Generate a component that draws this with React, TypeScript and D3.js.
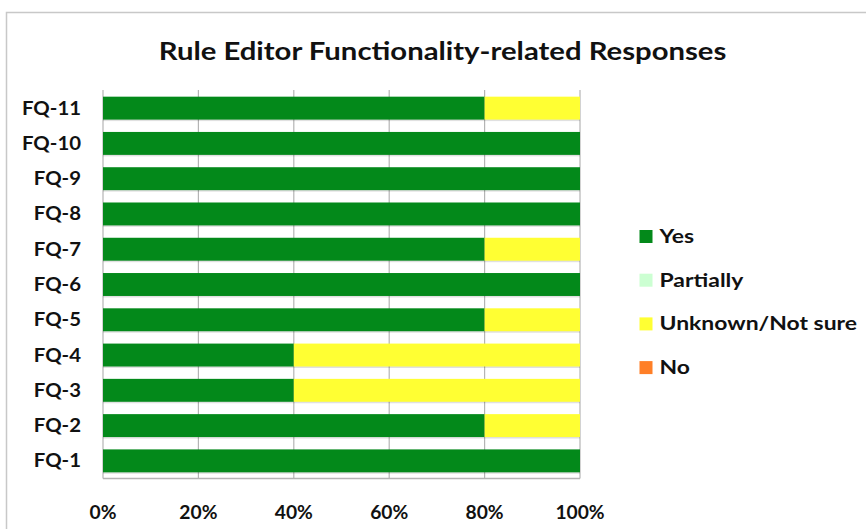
import React from "react";
import * as d3 from "d3";

const categories = ["FQ-1", "FQ-2", "FQ-3", "FQ-4", "FQ-5", "FQ-6", "FQ-7", "FQ-8", "FQ-9", "FQ-10", "FQ-11"];
const seriesNames = ["Yes", "Partially", "Unknown/Not sure", "No"];
const yesValues = [100, 80, 40, 40, 80, 100, 80, 100, 100, 100, 80];
const partiallyValues = [0, 0, 0, 0, 0, 0, 0, 0, 0, 0, 0];
const unknownValues = [0, 20, 60, 60, 20, 0, 20, 0, 0, 0, 20];
const noValues = [0, 0, 0, 0, 0, 0, 0, 0, 0, 0, 0];
const tickValues = [0, 20, 40, 60, 80, 100];
const colors = ["#03891A", "#CCFFD2", "#FFFF33", "#FF7F27"];

const W = 866, H = 529;
const FONT = "Lato, 'Open Sans', sans-serif";

export default function App() {
  const x = d3.scaleLinear().domain([0, 100]).range([103, 580]);
  const y = d3.scaleBand<string>().domain([...categories].reverse()).range([90.5, 478.5]).paddingInner(0.35).paddingOuter(0.175);
  const rows = categories.map((c, i) => ({
    cat: c,
    Yes: yesValues[i],
    Partially: partiallyValues[i],
    "Unknown/Not sure": unknownValues[i],
    No: noValues[i],
  }));
  const stack = d3.stack<any>().keys(seriesNames)(rows);
  const bh = y.bandwidth();
  return (
    <svg width={W} height={H} style={{ display: "block", position: "absolute", left: 0, top: 0, background: "#fff" }}>
      <rect x={6.5} y={12.5} width={W + 20} height={H + 20} fill="#fff" stroke="#c8c8c8" strokeWidth={1.5} />
      <g transform="translate(442.5, 60) scale(1.22, 1)">
        <text x={0} y={0} textAnchor="middle" fontFamily={FONT} fontWeight="bold" fontSize={24} fill="#111">
          Rule Editor Functionality-related Responses
        </text>
      </g>
      {tickValues.map((t) => (
        <line key={t} x1={x(t)} x2={x(t)} y1={90} y2={478.5} stroke="#b4b4b4" strokeWidth={1.2} />
      ))}
      <line x1={x(0)} x2={x(100)} y1={478.5} y2={478.5} stroke="#b4b4b4" strokeWidth={1.5} />
      {stack.map((s, si) =>
        s.map((d: any, i: number) => {
          const w = x(d[1]) - x(d[0]);
          if (w <= 0) return null;
          const yy = y(d.data.cat)!;
          return (
            <g key={si + "-" + i}>
              <rect x={x(d[0])} y={yy + 1.5} width={w} height={bh} fill="#000" opacity={0.12} />
              <rect x={x(d[0])} y={yy} width={w} height={bh} fill={colors[si]} />
            </g>
          );
        })
      )}
      {categories.map((c) => (
        <g key={c} transform={`translate(81, ${y(c)! + bh / 2}) scale(1.1, 1)`}>
          <text x={0} y={0} dy="0.35em" textAnchor="end" fontFamily={FONT} fontWeight="bold" fontSize={18.5} fill="#111">
            {c}
          </text>
        </g>
      ))}
      {tickValues.map((t) => (
        <g key={t} transform={`translate(${x(t)}, 519) scale(1.07, 1)`}>
          <text x={0} y={0} textAnchor="middle" fontFamily={FONT} fontWeight="bold" fontSize={18} fill="#111">
            {t + "%"}
          </text>
        </g>
      ))}
      {seriesNames.map((n, i) => (
        <g key={n} transform={`translate(639.5, ${236.5 + i * 43.7})`}>
          <rect x={0} y={-6.5} width={13} height={13} fill={colors[i]} />
          <g transform="translate(20, 0) scale(1.24, 1)">
            <text x={0} y={0} dy="0.35em" fontFamily={FONT} fontWeight="bold" fontSize={18.5} fill="#111">
              {n}
            </text>
          </g>
        </g>
      ))}
    </svg>
  );
}
